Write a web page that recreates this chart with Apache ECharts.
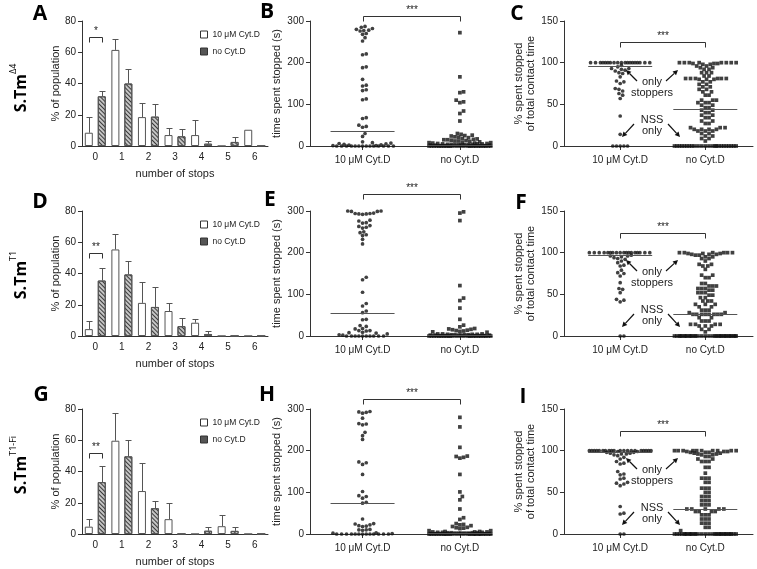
<!DOCTYPE html>
<html>
<head>
<meta charset="utf-8">
<script src="https://cdn.jsdelivr.net/npm/echarts@6/dist/echarts.min.js"></script>
<style>html,body{margin:0;background:#fff}#c{width:757px;height:569px}</style>
</head>
<body>
<div id="c"></div>
<script>
// ---------- data ----------
const stopCats = ['0', '1', '2', '3', '4', '5', '6'];
const groupNames = ['10 μM Cyt.D', 'no Cyt.D'];
const timeTicks = [0, 100, 200, 300];
const pctTicks = [0, 50, 100, 150];

// bar panels: bar height and top of the error bar, per number of stops
const a10 = [8.5, 61.5, 18.5, 7, 7, 0, 10.4];
const a10Err = [18.8, 68.4, 27.5, 11.5, 16.4, 0, 0];
const aNo = [31.8, 40, 18.8, 6.2, 1.5, 2.6, 0];
const aNoErr = [35.2, 49.3, 26.9, 11, 3, 5.8, 0];

const d10 = [4.4, 55.4, 21.2, 16, 8.5, 0, 0];
const d10Err = [9.7, 65.6, 34.5, 21, 11, 0, 0];
const dNo = [35.5, 39.4, 18.6, 6.3, 1.3, 0, 0];
const dNoErr = [43.6, 48.3, 31.3, 11.6, 3.4, 0, 0];

const g10 = [4.7, 59.7, 27.5, 9.5, 0, 5, 0];
const g10Err = [9.7, 77.7, 45.3, 19.7, 0, 12, 0];
const gNo = [33.2, 49.7, 16.5, 0, 2.1, 2, 0];
const gNoErr = [43.4, 60.3, 21.2, 0, 4.4, 4.2, 0];

// time spent stopped (s)
const b10 = [287, 285, 282, 280, 278, 277, 276, 270, 268, 260, 252, 221, 219, 190, 188, 160, 146, 144, 135, 133, 113, 111, 68, 66, 50, 47, 45, 30, 23, 10, 8,
  0, 0, 0, 0, 0, 0, 0, 0, 0, 0, 0, 0, 0, 0, 1, 1, 2, 3, 4, 5, 6, 7];
const bNo = [272, 166, 130, 128, 110, 106, 104, 84, 78, 60, 30, 28, 26, 25, 24, 22, 21, 20, 18, 17, 16, 15, 15, 14, 13, 12, 12, 11, 10, 9,
  0, 0, 0, 0, 0, 0, 0, 0, 0, 0, 0, 0, 0, 0, 0, 0, 0, 0, 0, 0, 0, 0, 0, 0, 0,
  1, 1, 1, 1, 1, 2, 2, 2, 2, 3, 3, 3, 3, 4, 4, 4, 5, 5, 5, 6, 6, 7, 7, 8, 8];
const e10 = [300, 300, 299, 299, 295, 294, 294, 293, 293, 292, 278, 276, 272, 271, 265, 263, 261, 259, 250, 248, 243, 241, 232, 221,
  141, 135, 105, 78, 72, 60, 56, 40, 39, 25, 23, 18, 17, 13, 13, 12, 9, 8,
  0, 0, 0, 0, 0, 0, 0, 0, 0, 0, 2, 3, 5, 7];
const eNo = [298, 295, 277, 121, 91, 85, 67, 40, 26, 22, 18, 17, 16, 15, 14, 13, 12, 11, 10, 9,
  0, 0, 0, 0, 0, 0, 0, 0, 0, 0, 0, 0, 0, 0, 0, 0, 0, 0, 0, 0, 0, 0, 0, 0, 0,
  1, 1, 1, 1, 1, 2, 2, 2, 2, 2, 3, 3, 3, 3, 4, 4, 4, 5, 5, 5];
const h10 = [294, 293, 292, 290, 278, 265, 264, 262, 244, 236, 227, 173, 171, 167, 143, 102, 92, 90, 86, 76, 74,
  36, 25, 24, 22, 20, 19, 18, 11, 10, 10, 9,
  0, 0, 0, 0, 0, 0, 0, 0, 0, 0, 0, 0, 0, 1, 2, 3];
const hNo = [280, 257, 208, 187, 186, 184, 182, 143, 101, 90, 82, 60, 39, 35, 25, 23, 22, 20, 18, 16, 15, 14, 13,
  0, 0, 0, 0, 0, 0, 0, 0, 0, 0, 0, 0, 0, 0, 0, 0, 0, 0, 0, 0, 0, 0, 0, 0, 0, 0, 0, 0,
  1, 1, 1, 1, 1, 2, 2, 2, 2, 2, 3, 3, 3, 3, 4, 4, 4, 5, 5, 5, 6, 6, 8, 8];

// % spent stopped of total contact time
const c10 = [100, 100, 100, 100, 100, 100, 100, 100, 100, 100, 100, 100, 100, 100, 100, 100, 100, 100, 100,
  97, 95, 93, 93, 92, 91, 90, 88, 87, 83, 78, 77, 75, 69, 68, 66, 63, 61, 57, 36, 14, 0, 0, 0, 0, 0];
const cNo = [100, 100, 100, 100, 100, 100, 100, 100, 99, 99, 99, 98, 98, 96, 96, 94, 94, 92, 92, 88, 88, 88, 84, 84,
  81, 81, 81, 81, 81, 81, 80, 80, 80, 77, 77, 74, 74, 71, 71, 68, 68, 65, 65, 61, 61, 55, 55, 55, 52, 52, 52,
  49, 49, 46, 46, 43, 43, 40, 40, 37, 37, 34, 34, 30, 30, 27, 27, 22, 22, 22, 20, 20, 20, 20, 18, 18, 18, 15, 15, 12, 12, 9, 9, 6,
  0, 0, 0, 0, 0, 0, 0, 0, 0, 0, 0, 0, 0, 0, 0, 0, 0, 0, 0, 0, 0, 0, 0, 0];
const f10 = [100, 100, 100, 100, 100, 100, 100, 100, 100, 100, 100, 100, 100, 100, 100, 100, 100, 100,
  97, 96, 96, 95, 94, 93, 92, 90, 88, 85, 84, 79, 76, 75, 72, 64, 57, 56, 52, 44, 43, 41, 0, 0];
const fNo = [100, 100, 100, 100, 100, 100, 99, 99, 99, 98, 98, 98, 97, 97, 95, 95, 93, 93, 90, 86, 86, 84, 84, 80,
  73, 73, 70, 70, 63, 63, 60, 60, 60, 57, 57, 57, 55, 55, 52, 52, 52, 49, 49, 46, 46, 42, 42, 42, 38, 38, 38,
  35, 35, 31, 31, 31, 28, 28, 26, 26, 26, 26, 26, 26, 26, 26, 22, 22, 18, 18, 18, 14, 14, 14, 14, 12, 12, 12, 8, 8, 5,
  0, 0, 0, 0, 0, 0, 0, 0, 0, 0, 0, 0, 0, 0, 0, 0, 0, 0, 0, 0, 0, 0, 0, 0, 0, 0, 0, 0, 0, 0, 0, 0];
const i10 = [100, 100, 100, 100, 100, 100, 100, 100, 100, 100, 100, 100, 100, 100, 100, 100, 100, 100, 100, 100,
  99, 99, 98, 98, 97, 97, 96, 96, 95, 94, 92, 90, 87, 85, 84, 75, 72, 71, 67, 66, 62, 61, 60, 58, 33, 25, 24, 0, 0];
const iNo = [100, 100, 100, 100, 100, 100, 100, 100, 100, 100, 99, 99, 99, 98, 98, 98, 97, 97, 96, 96, 95, 95, 93, 93,
  90, 90, 87, 87, 87, 80, 80, 73, 67, 67, 67, 62, 62, 55, 55, 55, 50, 50, 45, 45, 45, 40, 40, 40, 35, 35, 35,
  30, 30, 30, 30, 30, 27, 27, 27, 27, 23, 23, 23, 18, 18, 18, 13, 13, 13, 8, 8, 4,
  0, 0, 0, 0, 0, 0, 0, 0, 0, 0, 0, 0, 0, 0, 0, 0, 0, 0, 0, 0, 0, 0, 0, 0, 0, 0, 0, 0, 0, 0];

// median lines [10 μM, no Cyt.D]
const bLines = [36, 3], eLines = [56, 2], hLines = [74, 2];
const cLines = [96, 45], fLines = [97, 26], iLines = [98, 30];

// ---------- layout ----------
const FONT = 'Liberation Sans, Arial, sans-serif';
const INK = '#222';
const AX = '#333';
const ROW_TOP = [21, 211, 409];
const ROW_H = 125;
const BAR_OFF = 6.5;       // px from category centre to each bar centre
const DOT = 3.7;           // scatter symbol size / min spacing (px)

// x positions of the two columns on a 0-based value axis
const TIME = { left: 310, width: 182, xMax: 1.87, cols: [0.54, 1.54], yMax: 300, ticks: timeTicks,
  name: 'time spent stopped (s)', nameGap: 21 };
const PCT = { left: 564, width: 189, xMax: 2.22, cols: [0.66, 1.66], yMax: 150, ticks: pctTicks,
  name: '% spent stopped\nof total contact time', nameGap: 20 };

const HATCH = { symbol: 'rect', symbolSize: 1, color: '#3a3a3a', dashArrayX: [1, 0], dashArrayY: [1, 2], rotation: Math.PI / 4 };

const grid = [], xAxis = [], yAxis = [], series = [], legend = [], graphic = [];

function lbl(extra) {
  return Object.assign({ color: INK, fontSize: 10, fontFamily: FONT }, extra || {});
}

// beeswarm: keep exact y, push x sideways until no overlap (px space)
function swarm(values, center, pxX, pxY, halfW) {
  const placed = [], out = [];
  const stepPx = DOT / 3;
  values.slice().sort((a, b) => a - b).forEach((v) => {
    const py = v * pxY;
    let best = 0, bestGap = -1;
    for (let k = 0; ; k++) {
      const off = (k % 2 ? 1 : -1) * Math.ceil(k / 2) * stepPx + 0;
      if (Math.abs(off) > halfW) break;
      let gap = Infinity;
      placed.forEach((p) => { const g = Math.hypot(p[0] - off, p[1] - py); if (g < gap) gap = g; });
      if (gap >= DOT) { best = off; bestGap = gap; break; }
      if (gap > bestGap) { bestGap = gap; best = off; }
    }
    placed.push([best, py]);
    out.push([center + best / pxX, v]);
  });
  return out;
}

function bracket(gi, x1, x2, y, label, dx1, dx2) {
  return {
    type: 'custom', xAxisIndex: gi, yAxisIndex: gi, clip: false, silent: true, z: 5,
    data: [[x1, x2, y]],
    renderItem: (p, api) => {
      const a = api.coord([api.value(0), api.value(2)]);
      const b = api.coord([api.value(1), api.value(2)]);
      const xa = Math.round(a[0] + dx1) + 0.5, xb = Math.round(b[0] + dx2) + 0.5, yy = Math.round(a[1]) + 0.5;
      return { type: 'group', children: [
        { type: 'polyline', shape: { points: [[xa, yy + 5], [xa, yy], [xb, yy], [xb, yy + 5]] },
          style: { stroke: AX, fill: null, lineWidth: 1 } },
        { type: 'text', style: { x: (xa + xb) / 2, y: yy - 1, text: label, align: 'center', verticalAlign: 'bottom',
          textAlign: 'center', textVerticalAlign: 'bottom', fontSize: 10, fontFamily: FONT, fill: INK } },
      ] };
    },
  };
}

function renderErr(p, api) {
  const base = api.coord([api.value(0), api.value(1)]);
  const top = api.coord([api.value(0), api.value(2)]);
  const x = Math.round(base[0] + api.value(3)) + 0.5;
  const yt = Math.round(top[1]) + 0.5;
  return { type: 'group', children: [
    { type: 'line', shape: { x1: x, y1: base[1], x2: x, y2: yt }, style: { stroke: '#555', lineWidth: 1 } },
    { type: 'line', shape: { x1: x - 3, y1: yt, x2: x + 3, y2: yt }, style: { stroke: '#555', lineWidth: 1 } },
  ] };
}

function barPanel(row, v10, e10v, vNo, eNov, star, starY) {
  const gi = grid.length;
  grid.push({ left: 82, top: ROW_TOP[row], width: 186, height: ROW_H });
  xAxis.push({
    gridIndex: gi, type: 'category', data: stopCats,
    axisLine: { lineStyle: { color: AX } },
    axisTick: { alignWithLabel: true, length: 4, lineStyle: { color: AX } },
    axisLabel: lbl({ margin: 6 }),
    name: 'number of stops', nameLocation: 'middle', nameGap: 22, nameTextStyle: lbl({ fontSize: 11 }),
  });
  yAxis.push({
    gridIndex: gi, type: 'value', min: 0, max: 80, interval: 20,
    axisLine: { show: true, lineStyle: { color: AX } },
    axisTick: { show: true, length: 4, lineStyle: { color: AX } },
    axisLabel: lbl({ margin: 6 }), splitLine: { show: false },
    name: '% of population', nameLocation: 'middle', nameGap: 19, nameTextStyle: lbl({ fontSize: 11 }),
  });
  series.push({ type: 'bar', name: groupNames[0], xAxisIndex: gi, yAxisIndex: gi, data: v10,
    barWidth: 8, barGap: '62%', itemStyle: { color: '#fff', borderColor: '#555', borderWidth: 1 } });
  series.push({ type: 'bar', name: groupNames[1], xAxisIndex: gi, yAxisIndex: gi, data: vNo,
    barWidth: 8, itemStyle: { color: '#c4c4c4', borderColor: '#555', borderWidth: 1, decal: HATCH } });
  const errData = [];
  v10.forEach((v, i) => { if (e10v[i] > v) errData.push([i, v, e10v[i], -BAR_OFF]); });
  vNo.forEach((v, i) => { if (eNov[i] > v) errData.push([i, v, eNov[i], BAR_OFF]); });
  series.push({ type: 'custom', xAxisIndex: gi, yAxisIndex: gi, data: errData, renderItem: renderErr, silent: true, z: 3 });
  series.push(bracket(gi, 0, 0, starY, star, -BAR_OFF, BAR_OFF));
  legend.push({
    orient: 'vertical', left: 195, top: ROW_TOP[row] + 4, itemWidth: 7, itemHeight: 7, itemGap: 8,
    selectedMode: false, textStyle: lbl({ fontSize: 8.5 }),
    data: [
      { name: groupNames[0], icon: 'rect', itemStyle: { color: '#fff', borderColor: '#333', borderWidth: 1 } },
      { name: groupNames[1], icon: 'rect', itemStyle: { color: '#555', borderColor: '#333', borderWidth: 1, decal: 'none' } },
    ],
  });
}

function scatterPanel(row, c, v10, vNo, lines, starY) {
  const gi = grid.length;
  grid.push({ left: c.left, top: ROW_TOP[row], width: c.width, height: ROW_H });
  xAxis.push({
    gridIndex: gi, type: 'value', min: 0, max: c.xMax,
    axisLine: { show: true, lineStyle: { color: AX } },
    axisTick: { show: true, length: 4, customValues: c.cols, lineStyle: { color: AX } },
    axisLabel: lbl({ margin: 9, customValues: c.cols, formatter: (v) => groupNames[v < c.cols[1] - 0.5 ? 0 : 1] }),
    splitLine: { show: false },
  });
  yAxis.push({
    gridIndex: gi, type: 'value', min: 0, max: c.yMax, interval: c.ticks[1],
    axisLine: { show: true, lineStyle: { color: AX } },
    axisTick: { show: true, length: 4, lineStyle: { color: AX } },
    axisLabel: lbl({ margin: 6 }), splitLine: { show: false },
    name: c.name, nameLocation: 'middle', nameGap: c.nameGap, nameTextStyle: lbl({ fontSize: 11, lineHeight: 12 }),
  });
  const pxX = c.width / c.xMax, pxY = ROW_H / c.yMax;
  series.push({ type: 'scatter', xAxisIndex: gi, yAxisIndex: gi, symbol: 'circle', symbolSize: DOT, clip: false,
    data: swarm(v10, c.cols[0], pxX, pxY, 31), itemStyle: { color: '#111' }, silent: true });
  series.push({ type: 'scatter', xAxisIndex: gi, yAxisIndex: gi, symbol: 'rect', symbolSize: DOT, clip: false,
    data: swarm(vNo, c.cols[1], pxX, pxY, 31), itemStyle: { color: '#111' }, silent: true });
  series.push({
    type: 'custom', xAxisIndex: gi, yAxisIndex: gi, silent: true, z: 4, clip: false,
    data: lines.map((y, i) => [c.cols[i], y]),
    renderItem: (p, api) => {
      const pt = api.coord([api.value(0), api.value(1)]);
      const y = Math.round(pt[1]) + 0.5;
      return { type: 'line', shape: { x1: pt[0] - 32, y1: y, x2: pt[0] + 32, y2: y }, style: { stroke: '#555', lineWidth: 1 } };
    },
  });
  series.push(bracket(gi, c.cols[0], c.cols[1], starY, '***', 0, 0));
}

barPanel(0, a10, a10Err, aNo, aNoErr, '*', 70);
barPanel(1, d10, d10Err, dNo, dNoErr, '**', 53);
barPanel(2, g10, g10Err, gNo, gNoErr, '**', 52);
scatterPanel(0, TIME, b10, bNo, bLines, 312);
scatterPanel(1, TIME, e10, eNo, eLines, 340);
scatterPanel(2, TIME, h10, hNo, hLines, 324);
scatterPanel(0, PCT, c10, cNo, cLines, 125);
scatterPanel(1, PCT, f10, fNo, fLines, 124);
scatterPanel(2, PCT, i10, iNo, iLines, 124);

// panel letters
const letters = [['A', 40, 14], ['B', 267, 12], ['C', 517, 14], ['D', 40, 202], ['E', 270, 200], ['F', 521, 203],
  ['G', 41, 395], ['H', 267, 395], ['I', 523, 397]];
letters.forEach((l) => graphic.push({ type: 'text', x: l[1], y: l[2],
  style: { text: l[0], align: 'center', verticalAlign: 'middle', textAlign: 'center', textVerticalAlign: 'middle',
    fontSize: 21, fontWeight: 'bold', fontFamily: 'Open Sans, DejaVu Sans, sans-serif', fill: '#000' } }));

// strain labels (rotated)
const strains = [['Δ4', 88], ['T1', 275], ['T1-Fi', 465]];
strains.forEach((s) => graphic.push({ type: 'text', x: 19, y: s[1], rotation: Math.PI / 2,
  style: { text: '{b|S.Tm}{s|' + s[0] + '}', align: 'center', verticalAlign: 'middle', textAlign: 'center', textVerticalAlign: 'middle',
    rich: { b: { fontSize: 16, fontWeight: 'bold', fontFamily: 'Open Sans, sans-serif', fill: '#000', lineHeight: 20, verticalAlign: 'bottom' },
            s: { fontSize: 9, fontWeight: 'normal', fontFamily: 'Open Sans, sans-serif', fill: '#000', lineHeight: 20, verticalAlign: 'top' } } } }));

// "only stoppers" / "NSS only" annotations in C, F, I
function arrow(x1, y1, x2, y2) {
  const ang = Math.atan2(y2 - y1, x2 - x1), L = 5, W = 2.6;
  const bx = x2 - L * Math.cos(ang), by = y2 - L * Math.sin(ang);
  const nx = -Math.sin(ang) * W, ny = Math.cos(ang) * W;
  return [
    { type: 'line', shape: { x1: x1, y1: y1, x2: bx, y2: by }, style: { stroke: '#111', lineWidth: 1.2 } },
    { type: 'polygon', shape: { points: [[x2, y2], [bx + nx, by + ny], [bx - nx, by - ny]] }, style: { fill: '#111' } },
  ];
}
ROW_TOP.forEach((t) => {
  const txt = (s, y) => ({ type: 'text', x: 652, y: t + y,
    style: { text: s, align: 'center', verticalAlign: 'middle', textAlign: 'center', textVerticalAlign: 'middle',
      fontSize: 11, fontFamily: FONT, fill: INK } });
  graphic.push(txt('only', 61), txt('stoppers', 72), txt('NSS', 99), txt('only', 110));
  arrow(637, t + 60, 626, t + 49).forEach((e) => graphic.push(e));
  arrow(666, t + 60, 678, t + 49).forEach((e) => graphic.push(e));
  arrow(634, t + 103, 622, t + 116).forEach((e) => graphic.push(e));
  arrow(668, t + 103, 680, t + 116).forEach((e) => graphic.push(e));
});

const chart = echarts.init(document.getElementById('c'));
chart.setOption({
  animation: false,
  backgroundColor: '#fff',
  textStyle: { fontFamily: FONT },
  grid, xAxis, yAxis, series, legend, graphic,
});
</script>
</body>
</html>
